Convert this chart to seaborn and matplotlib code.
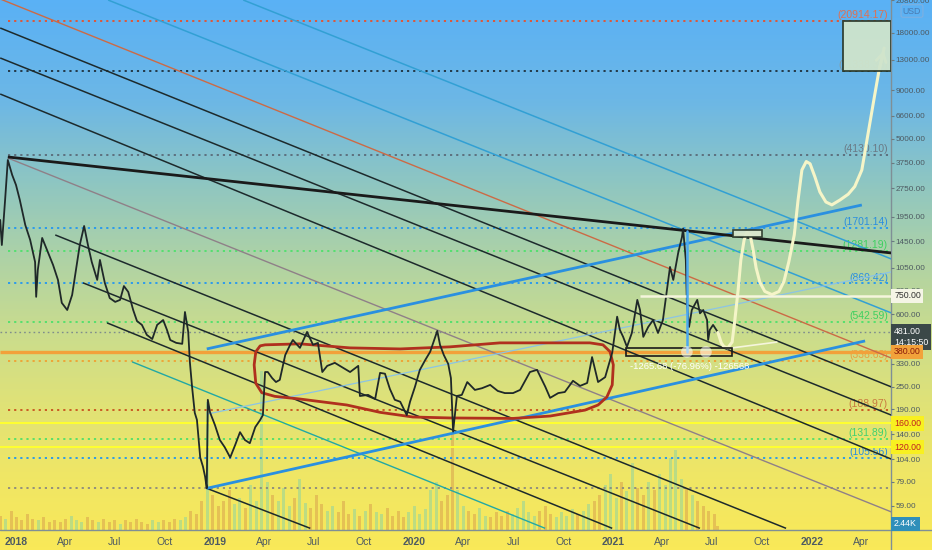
import numpy as np
import pandas as pd
import matplotlib
matplotlib.use("Agg")
import matplotlib.pyplot as plt
import matplotlib.dates as mdates
import matplotlib.transforms as mtransforms
from matplotlib.patches import Rectangle, Polygon
from matplotlib.colors import LinearSegmentedColormap
from matplotlib.ticker import NullLocator, FixedLocator
from matplotlib.lines import Line2D
import seaborn as sns

sns.set_theme(style="white")
plt.rcParams['font.family'] = ['Liberation Sans', 'DejaVu Sans']

BASE = pd.Timestamp("2018-01-01")

# ---------------- data (days since 2018-01-01, prices in USD) ----------------
price_day = [-29, -26, -20, -15, -7, 0, 7, 17, 26, 35,
             37, 40, 48, 59, 68, 77, 84, 94, 103, 110,
             117, 125, 132, 139, 149, 154, 163, 172, 182, 191,
             198, 206, 215, 222, 231, 240, 250, 259, 270, 277,
             283, 294, 305, 310, 316, 319, 323, 328, 332, 338,
             343, 347, 350, 352, 356, 365, 374, 383, 393, 402,
             411, 420, 429, 439, 448, 453, 457, 462, 470, 477,
             484, 494, 503, 508, 521, 534, 545, 554, 562, 571,
             585, 600, 613, 628, 631, 646, 659, 668, 677, 686,
             695, 705, 717, 723, 732, 741, 751, 760, 773, 778,
             785, 793, 798, 802, 809, 818, 828, 842, 855, 870,
             884, 897, 912, 925, 943, 956, 971, 980, 995, 1007,
             1022, 1035, 1048, 1057, 1068, 1081, 1094, 1103, 1108, 1114,
             1121, 1130, 1140, 1145, 1151, 1160, 1169, 1178, 1187, 1200,
             1206, 1215, 1222, 1224, 1229, 1231, 1235, 1240, 1250, 1255,
             1261, 1268, 1270, 1273, 1279, 1288]
price_close = [1875, 1385, 2388, 3873, 3230, 2862, 2388, 1765, 1472, 1128,
               740, 1024, 1508, 1258, 1088, 908, 688, 631, 757, 1024,
               1385, 1743, 1385, 1128, 908, 1156, 875, 729, 696, 713,
               843, 785, 631, 552, 527, 467, 444, 527, 559, 496,
               439, 424, 419, 616, 484, 337, 250, 182, 167, 106,
               95, 84, 73, 213, 183, 157, 131, 120, 106, 123,
               144, 131, 126, 153, 167, 177, 298, 298, 277, 264,
               271, 366, 414, 439, 399, 484, 414, 424, 298, 321,
               333, 314, 298, 321, 223, 226, 215, 295, 292, 243,
               213, 208, 177, 208, 249, 306, 345, 381, 490, 414,
               366, 329, 277, 145, 223, 226, 264, 240, 245, 255,
               237, 231, 231, 240, 298, 306, 250, 218, 231, 234,
               268, 252, 261, 357, 264, 280, 377, 582, 496, 456,
               404, 478, 713, 631, 456, 514, 559, 478, 559, 1062,
               908, 1258, 1527, 1690, 1156, 688, 514, 631, 713, 606,
               631, 559, 439, 496, 527, 481]

vol_day = list(range(-29, 1290, 10)) + [1288]
vol_k = [9, 7, 12, 8, 6, 10, 7, 6, 8, 5,
         6, 5, 7, 9, 6, 5, 8, 6, 5, 7,
         5, 6, 4, 6, 5, 7, 5, 4, 6, 5,
         6, 5, 7, 6, 8, 12, 10, 18,
         80,
         22, 15, 18, 25, 16, 20, 14, 28, 18,
         99,
         30, 22, 18, 26, 15, 20, 32, 17, 14, 22, 16,
         12, 15, 11, 18, 10, 13, 9, 12, 16, 11,
         10, 14, 9, 12, 8, 11, 15, 10, 13, 25,
         30, 18, 22, 60,
         25, 15, 12, 10, 14, 9,
         8, 11, 9, 12, 10, 14, 18, 11, 9, 12,
         15, 10, 8, 11, 9, 13, 10, 12, 16, 18,
         22, 28, 35, 20, 30, 24, 42, 26, 22, 30,
         25, 35, 28, 45, 50, 32, 26, 22, 18, 15,
         12, 10,
         2.44]

# projection curve (cream)
proj_day = [1288, 1294, 1299, 1306, 1314, 1319, 1325, 1330, 1336, 1341,
            1347, 1352, 1358, 1365, 1374, 1387, 1400, 1409, 1418, 1428,
            1435, 1442, 1450, 1457, 1466, 1475, 1486, 1497, 1512, 1527,
            1539, 1552, 1563, 1574, 1583, 1593]
proj_price = [481, 424, 405, 399, 428, 559, 804, 1156, 1472, 1616,
              1564, 1330, 1050, 880, 790, 760, 790, 890, 1130, 1564,
              2388, 3431, 3800, 3700, 3150, 2630, 2330, 2250, 2388, 2560,
              2810, 3431, 5240, 8000, 11220, 15010]

# horizontal levels
dotted_levels = [20914.17, 11338.0, 4130.10, 1701.14, 1281.19, 869.42, 542.59, 338.63, 188.97, 131.89, 105.56, 73.0]
dotted_labels = ["(20914.17)", "(11338.38)", "(4130.10)", "(1701.14)", "(1281.19)", "(869.42)", "(542.59)",
                 "(338.63)", "(188.97)", "(131.89)", "(105.56)", ""]
solid_levels = [380.0, 160.0, 120.0]
last_price = 481.0
target_level = 750.0

# trend lines: start/end (day, price)
trend_d0 = [-29, -29, -29, -29, 72, 123, 167, 350, -15, 169, 417, 213, 350, 350, 350, -15]
trend_p0 = [27140, 19110, 13300, 8600, 1564, 876, 540, 73, 3967, 26800, 26800, 337, 179, 394, 73, 4015]
trend_d1 = [1606, 1606, 1606, 1606, 1413, 1255, 1094, 540, 1606, 1606, 1606, 971, 1606, 1552, 1558, 1606]
trend_p1 = [353, 249, 177, 104, 45, 45, 45, 45, 54.9, 609, 1170, 45, 1000, 2247, 434, 1258]

# consolidation outline
zone_day = [457, 521, 613, 705, 796, 888, 980, 1053, 1077, 1090, 1096, 1094, 1084, 1068, 1044, 980,
            912, 796, 728, 668, 607, 521, 475, 451, 440, 437, 440, 448]
zone_price = [414, 419, 399, 394, 404, 424, 424, 424, 414, 381, 325, 255, 220, 200, 188, 175,
              170, 171, 173, 183, 200, 215, 222, 232, 260, 325, 381, 409]

# boxes (day0, day1, price0, price1)
target_box = (1518, 1606, 11338.0, 20914.17)
small_box = (1316, 1369, 1527, 1661)
range_box = (1119, 1314, 362, 399)
drop_day, drop_top, drop_bottom = 1231, 1645, 380
circle_day = [1231, 1266]
circle_price = [380, 380]

ytick_vals = [26800, 18000, 13000, 9000, 6600, 5000, 3750, 2750, 1950, 1450, 1050, 800, 600,
              330, 250, 190, 140, 104, 79, 59]
xtick_dates = ["2018-01-01", "2018-04-01", "2018-07-01", "2018-10-01", "2019-01-01", "2019-04-01",
               "2019-07-01", "2019-10-01", "2020-01-01", "2020-04-01", "2020-07-01", "2020-10-01",
               "2021-01-01", "2021-04-01", "2021-07-01", "2021-10-01", "2022-01-01", "2022-04-01"]
xtick_labels = ["2018", "Apr", "Jul", "Oct", "2019", "Apr", "Jul", "Oct", "2020", "Apr", "Jul", "Oct",
                "2021", "Apr", "Jul", "Oct", "2022", "Apr"]


def dt(days):
    return BASE + pd.to_timedelta(np.asarray(days, dtype=float), unit="D")


def dn(days):
    return mdates.date2num(dt(days))


# ---------------- figure ----------------
fig = plt.figure(figsize=(9.32, 5.5), dpi=100)

bg = fig.add_axes([0, 0, 1, 1], zorder=-10)
cmap = LinearSegmentedColormap.from_list("bg", [
    (0.0, "#5ab1f5"), (0.18, "#6cb7e6"), (0.33, "#8ec6c2"), (0.47, "#aed2a6"),
    (0.6, "#c9dc8e"), (0.73, "#dfe278"), (0.86, "#efe666"), (1.0, "#f9e958")])
bg.imshow(np.linspace(0, 1, 550)[:, None], cmap=cmap, aspect="auto", extent=[0, 1, 0, 1])
bg.axis("off")

pos = [0, 20 / 550, 891 / 932, 530 / 550]
axv = fig.add_axes(pos, zorder=1)
axv.patch.set_alpha(0)
ax = fig.add_axes(pos, zorder=2)
ax.patch.set_alpha(0)

x0, x1 = dn(-29.36), dn(1605.5)

# volume
vd = np.array(vol_day, dtype=float)
up = np.interp(vd + 5, price_day, price_close) >= np.interp(vd - 5, price_day, price_close)
vcol = np.where(up, "#8fd4a0", "#d9a24e")
axv.bar(dt(vd), vol_k, width=5.5, color=vcol, alpha=0.55, linewidth=0)
axv.set_xlim(x0, x1)
axv.set_ylim(0, 330)
axv.axis("off")

ax.set_yscale("log")
ax.set_ylim(44.1, 26810)
ax.set_xlim(x0, x1)

# horizontal dotted levels
lvl_colors = ["#e8502a", "#1e2e3a", "#5a6a78", "#2196f3", "#4ee06a", "#2196f3", "#4ee06a",
              "#f0a030", "#c8501e", "#4ee06a", "#2196f3", "#8a8a80"]
lbl_colors = ["#e07050", "#8a9a9a", "#6a7a86", "#2a8ee0", "#3ed060", "#2a8ee0", "#3ed060",
              "#e8a040", "#c87a40", "#40d070", "#2a8ee0", "#8a8a80"]
xl_start = dn(-14.7)
tb = mtransforms.blended_transform_factory(ax.transAxes, ax.transData)
for lv, lc, lab, tc in zip(dotted_levels, lvl_colors, dotted_labels, lbl_colors):
    ax.hlines(lv, xl_start, x1, colors=lc, linestyles=(0, (1.2, 2.2)), linewidth=1.3, zorder=2)
    if lab:
        ax.text(0.9965, lv * 1.012, lab, transform=tb, ha="right", va="bottom", fontsize=7.5,
                color=tc, zorder=3)
ax.hlines(last_price, x0, x1, colors="#7f8c8c", linestyles=(0, (1.2, 2.2)), linewidth=1.0, zorder=2)

# solid levels
ax.hlines(solid_levels[0], x0, x1, colors="#f2a13a", linewidth=2.4, zorder=3)
ax.hlines(solid_levels[1:], x0, x1, colors="#ffff30", linewidth=1.4, zorder=3)

# trend lines
styles = [("#cc6a45", 1.0), ("#1d2a2c", 1.1), ("#1d2a2c", 1.1), ("#1d2a2c", 1.1),
          ("#1d2a2c", 1.1), ("#1d2a2c", 1.1), ("#1d2a2c", 1.1), ("#1d2a2c", 1.1),
          ("#8f8088", 1.0), ("#32a0d4", 1.1), ("#32a0d4", 1.1), ("#22a8a4", 1.0),
          ("#8cc4e4", 0.9), ("#2a90e0", 2.0), ("#2a90e0", 2.0), ("#1a1a1a", 2.0)]
for a, b, c, d, (col, lw) in zip(trend_d0, trend_p0, trend_d1, trend_p1, styles):
    ax.plot(dt([a, c]), [b, d], color=col, linewidth=lw, zorder=4, solid_capstyle="butt")

# consolidation zone
zone = Polygon(np.column_stack([dn(zone_day), zone_price]), closed=True, fill=False,
               edgecolor="#b0301e", linewidth=2.0, joinstyle="round", zorder=5)
ax.add_patch(zone)

# price
sns.lineplot(x=dt(price_day), y=price_close, ax=ax, color="#1f2829", linewidth=1.3, zorder=6,
             sort=False, estimator=None)

# projection
sns.lineplot(x=dt(proj_day), y=proj_price, ax=ax, color="#f5f5c8", linewidth=2.2, zorder=7,
             sort=False, estimator=None)
ax.annotate("", xy=(dn(proj_day[-1]), proj_price[-1]), xytext=(dn(proj_day[-2]), proj_price[-2]),
            arrowprops=dict(arrowstyle="->,head_length=0.5,head_width=0.3", color="#f5f5c8", lw=2.0),
            zorder=7)
ax.hlines(target_level, dn(1145), x1, colors="#f5f5dc", linewidth=1.8, zorder=7)
ax.plot(dt([1314, 1396]), [399, 428], color="#f5f5dc", linewidth=1.2, zorder=7)

# boxes
def box(b, fc, ec, lw, alpha, z):
    r = Rectangle((dn(b[0]), b[2]), dn(b[1]) - dn(b[0]), b[3] - b[2], facecolor=fc, edgecolor=ec,
                  linewidth=lw, alpha=alpha, zorder=z)
    ax.add_patch(r)

box(target_box, "#cfe4cc", "#2c3a2c", 1.3, 0.95, 8)
box(small_box, "#dbe8cc", "#2c3a2c", 1.2, 0.95, 8)
box(range_box, "none", "#1a1a1a", 1.2, 1.0, 8)

ax.plot(dt([drop_day, drop_day]), [drop_top, drop_bottom], color="#4aa8f0", linewidth=1.8, zorder=8)
ax.scatter(dt(circle_day), circle_price, s=70, color="white", alpha=0.55, edgecolors="none", zorder=9)
ax.text(dn(1237), 317, "-1265.68 (-76.96%) -126568", ha="center", va="center", fontsize=6.8,
        color="white", zorder=9)

# axes styling
ax.set_xlabel("")
ax.set_ylabel("")
ax.yaxis.tick_right()
ax.yaxis.set_major_locator(FixedLocator(ytick_vals))
ax.yaxis.set_minor_locator(NullLocator())
ax.set_yticklabels([f"{v:.2f}" for v in ytick_vals])
ax.tick_params(axis="y", which="major", right=True, left=False, labelright=True, labelleft=False,
               length=2.5, width=0.8, color="#6a7a80", labelsize=5.9, labelcolor="#4d5a62", pad=1.0)
ax.set_xticks(mdates.date2num(pd.to_datetime(xtick_dates)))
ax.set_xticklabels(xtick_labels)
ax.tick_params(axis="x", length=0, pad=5, labelsize=7.5, labelcolor="#4d5a62")
for t, lab in zip(ax.get_xticklabels(), xtick_labels):
    if lab.isdigit():
        t.set_fontweight("bold")
for s in ["top", "left", "bottom", "right"]:
    ax.spines[s].set_visible(False)
ax.grid(False)

fig.add_artist(Line2D([0, 1], [20 / 550, 20 / 550], color="#7f8f96", linewidth=1.0, transform=fig.transFigure))
fig.add_artist(Line2D([891 / 932, 891 / 932], [0, 1], color="#7f8f96", linewidth=1.0, transform=fig.transFigure))

# right-axis value tags
def tag(y, txt, fc, tc):
    ax.text(1.0035, y, txt, transform=tb, ha="left", va="center", fontsize=6.3, color=tc, zorder=20,
            clip_on=False, linespacing=1.3,
            bbox=dict(boxstyle="square,pad=0.3", facecolor=fc, edgecolor="none"))

tag(target_level, "750.00", "#f5f5e6", "#333333")
tag(455, "481.00\n14:15:50", "#3b4848", "white")
tag(solid_levels[0], "380.00", "#f2a23a", "#8a1a0a")
tag(solid_levels[1], "160.00", "#f8f020", "#c02020")
tag(solid_levels[2], "120.00", "#f8f020", "#c02020")
fig.text(894 / 932, 1 - 524 / 550, "2.44K", ha="left", va="center", fontsize=6.3, color="white",
         bbox=dict(boxstyle="square,pad=0.3", facecolor="#2f8fba", edgecolor="none"))
fig.text(912 / 932, 1 - 11 / 550, "USD", ha="center", va="center", fontsize=6.3, color="#4a7ab0",
         bbox=dict(boxstyle="round,pad=0.2", facecolor="none", edgecolor="#7fb0e0", linewidth=0.8))

fig.savefig("out.png", dpi=100)
